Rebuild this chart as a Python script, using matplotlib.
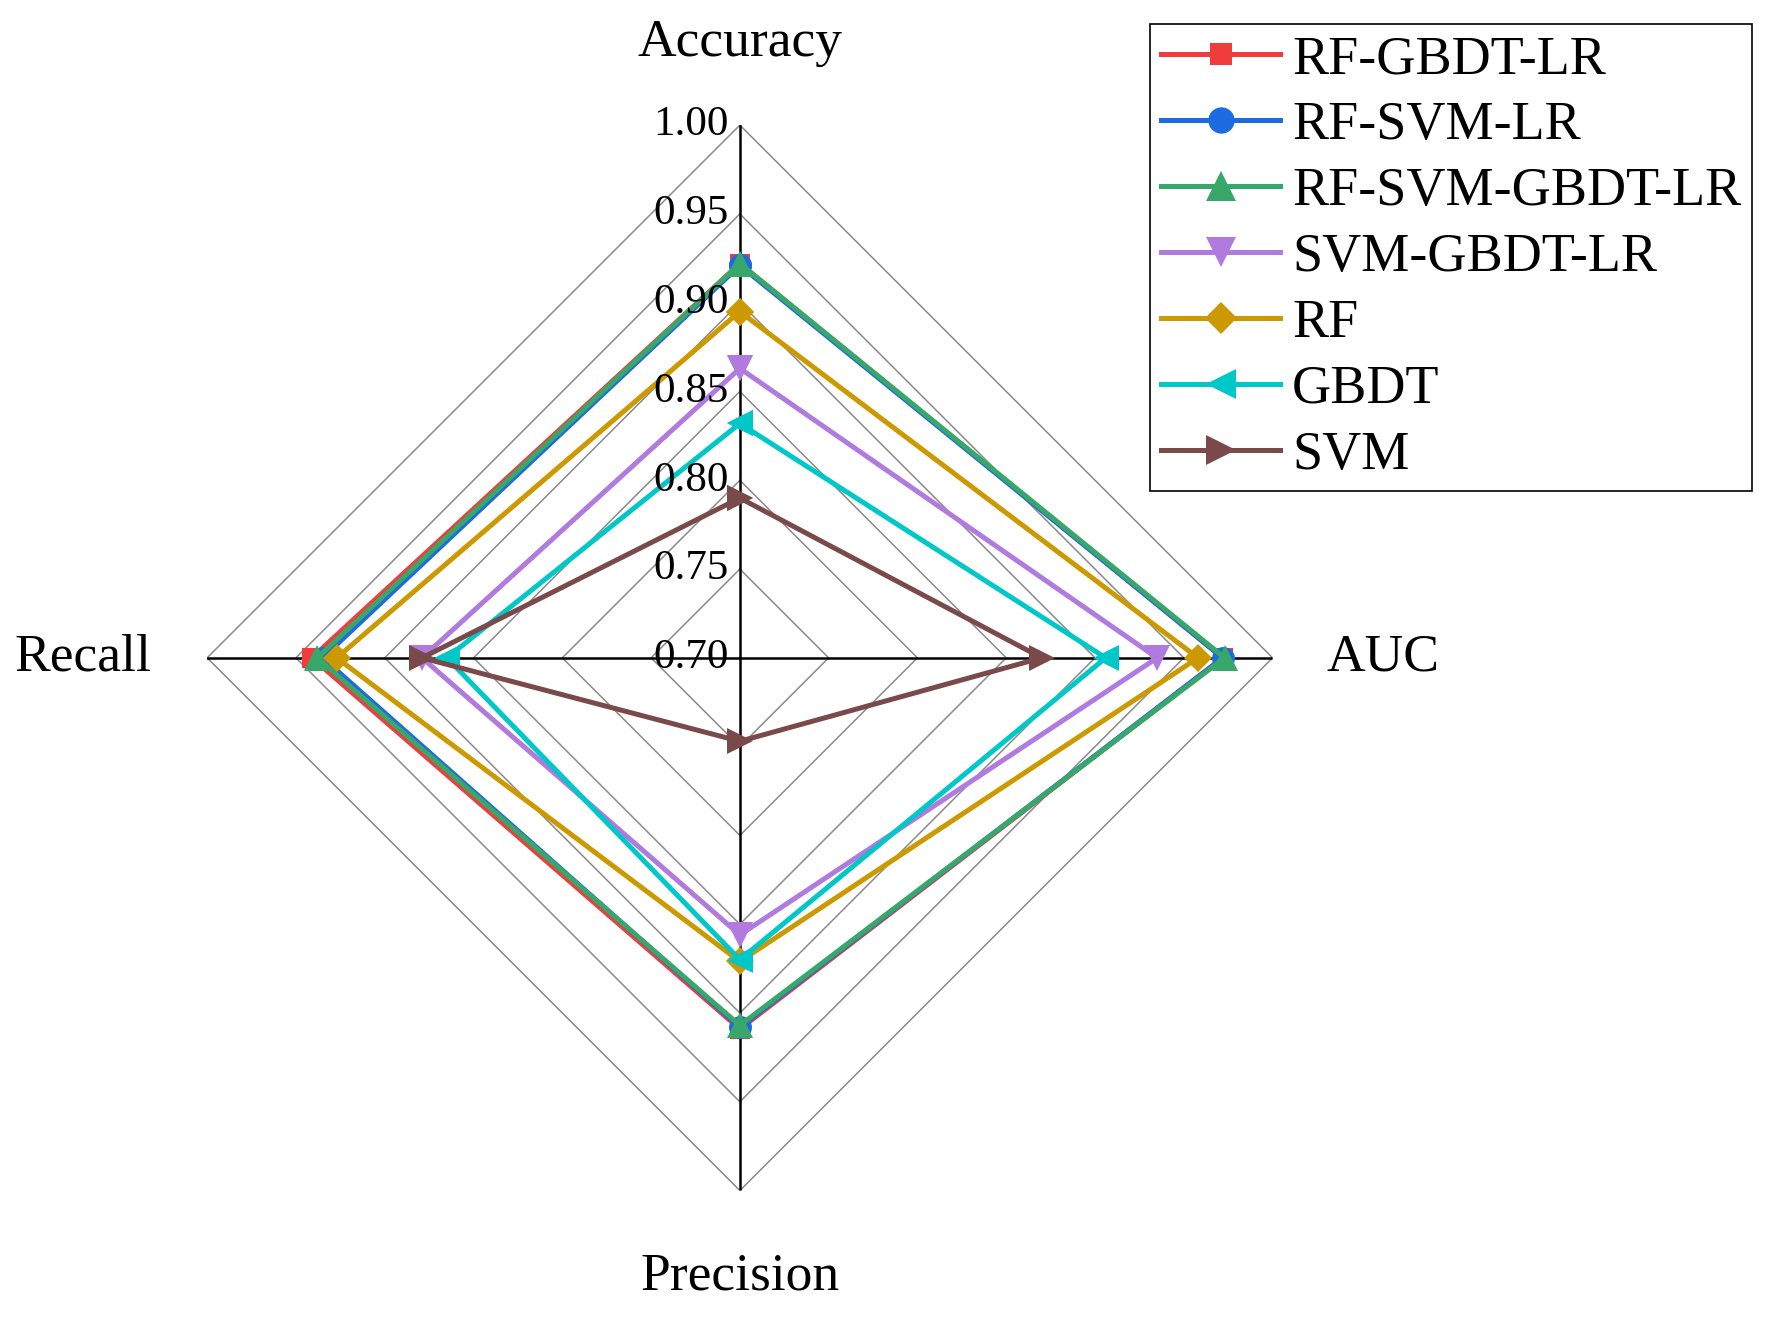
import numpy as np
import matplotlib
matplotlib.use('Agg')
import matplotlib.pyplot as plt

plt.rcParams['font.family'] = ['Liberation Serif', 'DejaVu Serif']

# axes go clockwise starting from the top
metrics = ['Accuracy', 'AUC', 'Precision', 'Recall']
models = ['RF-GBDT-LR', 'RF-SVM-LR', 'RF-SVM-GBDT-LR', 'SVM-GBDT-LR', 'RF', 'GBDT', 'SVM']
# values per model, in the order of metrics
rf_gbdt_lr = [0.922, 0.972, 0.909, 0.941]
rf_svm_lr = [0.921, 0.972, 0.908, 0.935]
rf_svm_gbdt_lr = [0.922, 0.973, 0.907, 0.938]
svm_gbdt_lr = [0.863, 0.935, 0.856, 0.879]
rf = [0.895, 0.958, 0.871, 0.927]
gbdt = [0.832, 0.906, 0.870, 0.865]
svm = [0.790, 0.870, 0.747, 0.879]
grid_levels = [0.75, 0.80, 0.85, 0.90, 0.95, 1.00]
tick_labels = ['0.70', '0.75', '0.80', '0.85', '0.90', '0.95', '1.00']

values = [rf_gbdt_lr, rf_svm_lr, rf_svm_gbdt_lr, svm_gbdt_lr, rf, gbdt, svm]
colors = ['#F03C3C', '#1C6BE0', '#38A86A', '#B07ADF', '#CC9900', '#00C8C8', '#7A4A4A']
markers = ['s', 'o', '^', 'v', 'D', '<', '>']
msizes = [14, 16.5, 19, 19, 14.5, 19, 19]

fig = plt.figure(figsize=(17.7, 13.17), dpi=100)
ax = fig.add_axes([0.117, 0.096, 0.602, 0.809], projection='polar')
ax.set_theta_offset(np.pi / 2)
ax.set_theta_direction(-1)
ax.set_ylim(0.70, 1.00)
ax.grid(False)
ax.spines['polar'].set_visible(False)
ax.set_xticks([])
ax.set_yticks([])

theta = np.arange(len(metrics)) * 2 * np.pi / len(metrics)
theta_c = np.append(theta, theta[0])

# diamond shaped grid
for lev in grid_levels:
    ax.plot(theta_c, [lev] * len(theta_c), color='#8a8a8a', lw=1.1, zorder=1)
# spokes
for t in theta:
    ax.plot([t, t], [0.70, 1.00], color='black', lw=1.8, zorder=2)

for i in range(len(models)):
    v = np.append(values[i], values[i][0])
    ax.plot(theta_c, v, color=colors[i], lw=3.6, marker=markers[i], ms=msizes[i],
            markeredgewidth=0, label=models[i], zorder=3 + i)

# tick labels along the top axis
for lab in tick_labels:
    ax.annotate(lab, xy=(0, float(lab)), xytext=(-8, 0), textcoords='offset points',
                ha='right', va='center', fontsize=31, zorder=20)

# metric labels
offsets = [(0, 59), (39, 0), (0, -62), (-40, 0)]
aligns = [('center', 'center'), ('left', 'center'), ('center', 'center'), ('right', 'center')]
for t, name, off, al in zip(theta, metrics, offsets, aligns):
    ax.annotate(name, xy=(t, 1.0), xytext=off, textcoords='offset points',
                ha=al[0], va=al[1], fontsize=38.5, annotation_clip=False)

leg = fig.legend(loc='upper right', bbox_to_anchor=(0.990, 0.982), fontsize=39,
                 frameon=True, fancybox=False, edgecolor='black', framealpha=1,
                 handlelength=2.2, handletextpad=0.22, borderpad=0.2,
                 labelspacing=0.285, borderaxespad=0, markerscale=1.15)
leg.get_frame().set_linewidth(1.2)

fig.savefig('out.png', dpi=100)
